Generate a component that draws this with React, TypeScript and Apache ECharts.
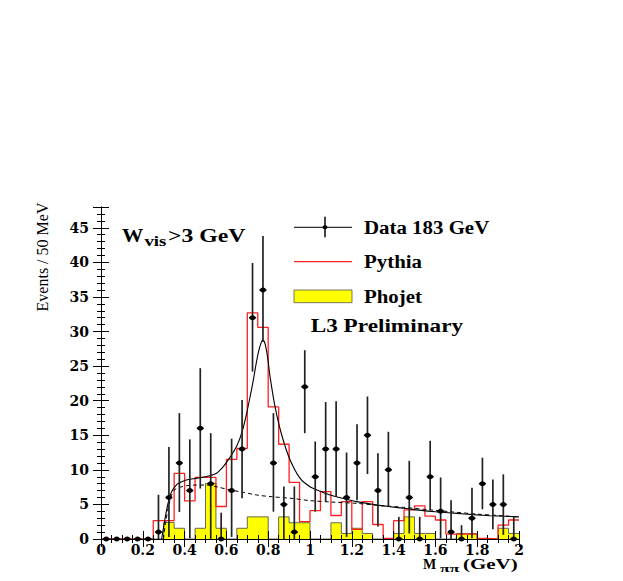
import React, { useEffect, useRef } from "react";
import * as echarts from "echarts";

// ---------- data ----------
const binEdges = [
  0, 0.05, 0.1, 0.15, 0.2, 0.25, 0.3, 0.35, 0.4, 0.45, 0.5, 0.55, 0.6, 0.65, 0.7, 0.75, 0.8, 0.85, 0.9, 0.95,
  1.0, 1.05, 1.1, 1.15, 1.2, 1.25, 1.3, 1.35, 1.4, 1.45, 1.5, 1.55, 1.6, 1.65, 1.7, 1.75, 1.8, 1.85, 1.9, 1.95, 2.0,
];

const dataCounts = [
  0, 0, 0, 0, 0, 1, 6, 11, 7, 16, 8, 0, 7, 13, 32, 36, 11, 5, 1, 22,
  9, 13, 13, 6, 11, 15, 7, 10, 0, 6, 0, 9, 4, 1, 0, 3, 8, 5, 5, 0,
];
const dataErrUp = [
  0, 0, 0, 0, 0, 5.4, 7.3, 7.2, 7.4, 8.7, 7.3, 3.8, 7.5, 7.1, 7.9, 7.8, 7.2, 2.6, 6.6, 5.3,
  5.1, 6.8, 6.9, 6.5, 5.6, 5.6, 5.4, 5.5, 3.2, 5.3, 3.2, 5.2, 4.9, 4.6, 2.0, 4.4, 3.75, 3.6, 4.35, 3.2,
];
const dataErrDown = [
  0, 0, 0, 0, 0, 1, 5.7, 7.1, 6.9, 8.7, 8, 0, 6.7, 7.1, 7.8, 7.5, 7.05, 5, 1, 6.7,
  5.05, 7.6, 6.9, 5.7, 5.4, 5.6, 5.2, 5.3, 0, 5.2, 0, 4.8, 3.9, 1, 0, 2.9, 3.7, 3.6, 4.4, 0,
];

const pythiaValues = [
  0, 0, 0, 0, 0, 2.65, 2.65, 9.5, 5.5, 8.9, 8.9, 4.7, 11.5, 13.1, 32.7, 30.6, 19.1, 13.7, 8.2, 2.5,
  4.1, 6.85, 3.4, 5.4, 1.4, 5.4, 2.1, 0.1, 2.65, 4.2, 4.8, 3.3, 2.75, 0.7, 0.7, 0.7, 0.1, 0, 2.0, 2.75,
];
const phojetValues = [
  0, 0, 0, 0, 0, 0, 2.4, 1.55, 0, 1.55, 8.05, 1.55, 0, 1.55, 3.2, 3.2, 0, 3.2, 2.35, 2.35,
  0, 0, 2.35, 0.8, 1.55, 0.8, 0, 0, 0.8, 3.2, 0.8, 0.8, 0, 0, 0.8, 0.8, 0, 0, 1.55, 0.8,
];

const fitX = [
  0.29, 0.3, 0.314, 0.325, 0.338, 0.355, 0.37, 0.4, 0.418, 0.45, 0.482, 0.52, 0.553, 0.585, 0.617, 0.649,
  0.675, 0.697, 0.715, 0.729, 0.745, 0.76, 0.774, 0.785, 0.797, 0.809, 0.833, 0.865, 0.904, 0.952, 1.0,
  1.05, 1.096, 1.16, 1.223, 1.3, 1.383, 1.46, 1.542, 1.62, 1.702, 1.78, 1.861, 1.93, 2.0,
];
const fitY = [
  0, 1.8, 4.2, 5.7, 6.85, 7.6, 8.05, 8.45, 8.6, 8.75, 8.9, 9.15, 9.5, 10.45, 11.8, 13.4,
  15.5, 18.2, 20.8, 23, 25.8, 27.8, 28.75, 28.2, 26.3, 23.45, 19.1, 15.0, 11.5, 8.8, 7.56,
  6.9, 6.36, 5.85, 5.4, 5.0, 4.67, 4.4, 4.1, 3.9, 3.7, 3.52, 3.37, 3.28, 3.2,
];
const bkgX = [
  0.298, 0.31, 0.325, 0.34, 0.355, 0.38, 0.41, 0.45, 0.506, 0.56, 0.617, 0.68, 0.745, 0.82, 0.904,
  1.0, 1.1, 1.223, 1.33, 1.447, 1.56, 1.67, 1.8, 1.9, 2.0,
];
const bkgY = [
  0, 2.5, 5.0, 6.5, 7.2, 7.5, 7.7, 7.8, 7.8, 7.5, 7.1, 6.75, 6.36, 6.1, 5.9,
  5.55, 5.35, 5.15, 4.85, 4.58, 4.25, 3.95, 3.6, 3.4, 3.2,
];

const xTickLabels = ["0", "0.2", "0.4", "0.6", "0.8", "1", "1.2", "1.4", "1.6", "1.8", "2"];
const yTickLabels = ["0", "5", "10", "15", "20", "25", "30", "35", "40", "45"];

const xErrHalf = 0.017;

// ---------- helpers ----------
const stepData = (vals: number[]) =>
  binEdges.map((e, i) => [e, vals[Math.min(i, vals.length - 1)]]);

const pointData = dataCounts.map((v, i) => [
  (binEdges[i] + binEdges[i + 1]) / 2,
  v,
  dataErrUp[i],
  dataErrDown[i],
]);

const tickFont = {
  fontFamily: "DejaVu Serif",
  fontWeight: "bold" as const,
  fontSize: 14,
  lineHeight: 12,
  color: "#000",
};

function makeOption(): any {
  const axisLine = { show: true, lineStyle: { color: "#000", width: 1 } };
  const xBase = {
    type: "value",
    min: 0,
    max: 2,
    interval: 0.2,
    z: 5,
    axisLine,
    splitLine: { show: false },
    axisTick: { show: true, inside: true, length: 8, lineStyle: { color: "#000" } },
    minorTick: { show: true, splitNumber: 4, length: 4, lineStyle: { color: "#000" } },
  };
  const yBase = {
    type: "value",
    min: 0,
    max: 48,
    interval: 5,
    z: 5,
    axisLine,
    splitLine: { show: false },
    axisTick: { show: true, inside: true, length: 8, lineStyle: { color: "#000" } },
    minorTick: { show: true, splitNumber: 5, length: 4, lineStyle: { color: "#000" } },
  };
  const T = (text: string, x: number, y: number, size: number, scaleX: number, extra: any = {}) => ({
    type: "text",
    x,
    y,
    scaleX,
    z: 10,
    style: {
      text,
      font: `bold ${size}px "Liberation Serif"`,
      fill: "#000",
      textAlign: "left",
      textVerticalAlign: "middle",
      ...extra,
    },
  });

  return {
    animation: false,
    backgroundColor: "#fff",
    grid: { left: 101, right: 104, top: 207, bottom: 42, containLabel: false },
    xAxis: [
      {
        ...xBase,
        position: "bottom",
        axisLabel: {
          ...tickFont,
          margin: 5,
          formatter: (v: number) => xTickLabels[Math.round(v / 0.2)] ?? "",
        },
      },
      { ...xBase, position: "top", axisLabel: { show: false } },
    ],
    yAxis: [
      {
        ...yBase,
        position: "left",
        axisLabel: {
          ...tickFont,
          margin: 12,
          showMaxLabel: false,
          formatter: (v: number) => (v % 5 === 0 && v <= 45 ? yTickLabels[v / 5] : ""),
        },
      },
      { ...yBase, position: "right", axisLabel: { show: false } },
    ],
    series: [
      {
        name: "Phojet",
        type: "line",
        step: "end",
        symbol: "none",
        data: stepData(phojetValues),
        lineStyle: { color: "#444", width: 0.8 },
        areaStyle: { color: "#ffff00", opacity: 1 },
        z: 2,
      },
      {
        name: "Pythia",
        type: "line",
        step: "end",
        symbol: "none",
        data: stepData(pythiaValues),
        lineStyle: { color: "#ff2020", width: 1.3 },
        z: 3,
      },
      {
        name: "Background",
        type: "line",
        symbol: "none",
        smooth: 0.3,
        data: bkgX.map((x, i) => [x, bkgY[i]]),
        lineStyle: { color: "#000", width: 1, type: [4, 3] },
        z: 3,
      },
      {
        name: "Fit",
        type: "line",
        symbol: "none",
        smooth: 0.3,
        data: fitX.map((x, i) => [x, fitY[i]]),
        lineStyle: { color: "#000", width: 1.1 },
        z: 3,
      },
      {
        name: "Data 183 GeV",
        type: "custom",
        z: 4,
        data: pointData,
        renderItem: (params: any, api: any) => {
          const x = api.value(0);
          const v = api.value(1);
          const up = api.value(2);
          const dn = api.value(3);
          const c = api.coord([x, v]);
          const top = api.coord([x, v + up]);
          const bot = api.coord([x, Math.max(0, v - dn)]);
          const hw = api.size([xErrHalf, 0])[0];
          const children: any[] = [];
          if (up > 0 || dn > 0) {
            children.push({
              type: "line",
              shape: { x1: c[0], y1: top[1], x2: c[0], y2: bot[1] },
              style: { stroke: "#222", lineWidth: 1.7 },
            });
          }
          children.push({
            type: "line",
            shape: { x1: c[0] - hw, y1: c[1], x2: c[0] + hw, y2: c[1] },
            style: { stroke: "#111", lineWidth: 1.5 },
          });
          children.push({
            type: "ellipse",
            shape: { cx: c[0], cy: c[1], rx: 3, ry: 2.5 },
            style: { fill: "#000" },
          });
          return { type: "group", children };
        },
      },
    ],
    graphic: [
      // W_vis > 3 GeV
      T("W", 122, 235.5, 19, 1.12),
      T("vis", 144.5, 241.5, 15, 1.25),
      T(">3 GeV", 168, 235.5, 19, 1.25),
      // legend symbols
      { type: "line", z: 10, shape: { x1: 294, y1: 227.3, x2: 352, y2: 227.3 }, style: { stroke: "#000", lineWidth: 1 } },
      { type: "line", z: 10, shape: { x1: 325, y1: 216.7, x2: 325, y2: 237.3 }, style: { stroke: "#222", lineWidth: 1.7 } },
      { type: "ellipse", z: 10, shape: { cx: 325, cy: 227.3, rx: 2.5, ry: 2 }, style: { fill: "#000" } },
      { type: "line", z: 10, shape: { x1: 294, y1: 261.7, x2: 352, y2: 261.7 }, style: { stroke: "#ff2020", lineWidth: 1.2 } },
      { type: "rect", z: 10, shape: { x: 294, y: 290, width: 58, height: 12.7 }, style: { fill: "#ffff00", stroke: "#555", lineWidth: 0.8 } },
      T("Data 183 GeV", 364, 227.5, 18, 1.16),
      T("Pythia", 364, 261.7, 18, 1.16),
      T("Phojet", 364, 296.7, 18, 1.16),
      T("L3 Preliminary", 310.7, 326, 18, 1.29),
      // y-axis title
      {
        type: "text",
        x: 42,
        y: 257,
        rotation: Math.PI / 2,
        z: 10,
        style: {
          text: "Events / 50 MeV",
          font: '16px "Liberation Serif"',
          fill: "#000",
          textAlign: "center",
          textVerticalAlign: "middle",
        },
      },
      // x-axis title
      T("M", 423, 564.5, 14, 1.0),
      T("ππ", 440, 568, 11, 1.6),
      T("(GeV)", 463, 564.5, 15, 1.4),
    ],
  };
}

export default function App() {
  const ref = useRef<HTMLDivElement>(null);
  useEffect(() => {
    if (!ref.current) return;
    const chart = echarts.init(ref.current, null, { renderer: "svg", width: 623, height: 581 });
    chart.setOption(makeOption());
    return () => chart.dispose();
  }, []);
  return (
    <div
      ref={ref}
      style={{ position: "fixed", left: 0, top: 0, width: 623, height: 581, background: "#fff" }}
    />
  );
}
